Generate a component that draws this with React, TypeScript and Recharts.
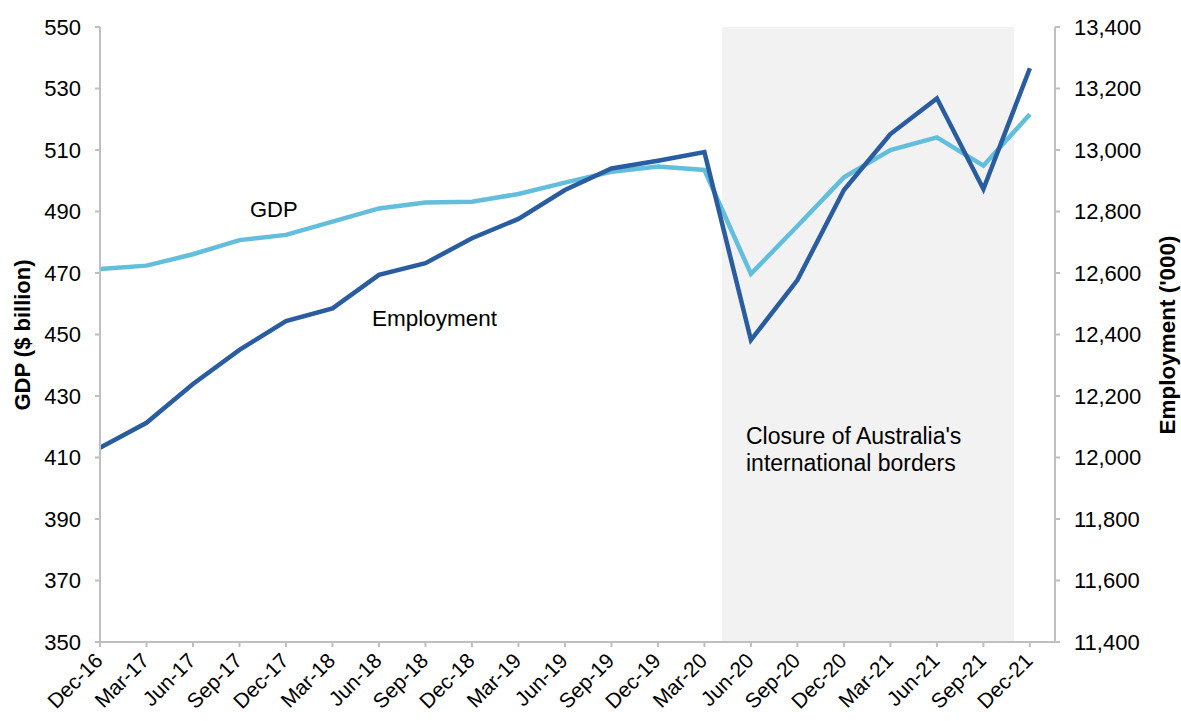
import React from "react";
import {
  LineChart,
  Line,
  XAxis,
  YAxis,
  ReferenceArea,
} from "recharts";

const QUARTERS = [
  "Dec-16", "Mar-17", "Jun-17", "Sep-17", "Dec-17", "Mar-18", "Jun-18",
  "Sep-18", "Dec-18", "Mar-19", "Jun-19", "Sep-19", "Dec-19", "Mar-20",
  "Jun-20", "Sep-20", "Dec-20", "Mar-21", "Jun-21", "Sep-21", "Dec-21",
];

// GDP, $ billion (left axis)
const GDP = [
  471.3, 472.4, 476.1, 480.7, 482.4, 486.7, 491.0, 492.9, 493.2, 495.7, 499.4,
  502.9, 504.6, 503.5, 469.7, 485.3, 501.1, 510.0, 514.1, 504.9, 521.6,
];

// Employment, '000 (right axis)
const EMPLOYMENT = [
  12032, 12113, 12239, 12350, 12444, 12485, 12594, 12632, 12713, 12776, 12870,
  12940, 12965, 12993, 12382, 12577, 12870, 13052, 13168, 12873, 13266,
];

const GDP_TICKS = [350, 370, 390, 410, 430, 450, 470, 490, 510, 530, 550];
const EMP_TICKS = [
  11400, 11600, 11800, 12000, 12200, 12400, 12600, 12800, 13000, 13200, 13400,
];

// border closure shading, in quarter-index units
const CLOSURE_START = 13.38;
const CLOSURE_END = 19.66;
const X_MAX = 20.54;

const data = QUARTERS.map((q, i) => ({
  idx: i,
  quarter: q,
  gdp: GDP[i],
  employment: EMPLOYMENT[i],
}));

const FONT = '"Liberation Sans", Arial, Helvetica, sans-serif';
const AXIS_GREY = "#bfbfbf";
const W = 1181;
const H = 721;

function QuarterTick({ x, y, payload }: any) {
  return (
    <text
      x={x + 4}
      y={y + 15}
      textAnchor="end"
      transform={`rotate(-45, ${x + 4}, ${y + 15})`}
      fontSize={21}
      fontFamily={FONT}
      fill="#000"
    >
      {QUARTERS[payload.value]}
    </text>
  );
}

export default function App() {
  return (
    <div style={{ position: "absolute", left: 0, top: 0, width: W, height: H, background: "#fff" }}>
      <LineChart
        width={W}
        height={H}
        data={data}
        margin={{ top: 27, right: 0, bottom: 0, left: 0 }}
      >
        <XAxis
          dataKey="idx"
          type="number"
          domain={[0, X_MAX]}
          ticks={QUARTERS.map((_, i) => i)}
          interval={0}
          height={79}
          tick={<QuarterTick />}
          tickSize={5}
          tickMargin={0}
          tickLine={{ stroke: AXIS_GREY, strokeWidth: 2 }}
          axisLine={{ stroke: AXIS_GREY, strokeWidth: 2 }}
        />
        <YAxis
          yAxisId="left"
          orientation="left"
          width={100}
          domain={[350, 550]}
          ticks={GDP_TICKS}
          interval={0}
          tickSize={5}
          tickMargin={14}
          tick={{ fontSize: 22, fill: "#000", fontFamily: FONT }}
          tickLine={{ stroke: AXIS_GREY, strokeWidth: 2 }}
          axisLine={{ stroke: AXIS_GREY, strokeWidth: 2 }}
        />
        <YAxis
          yAxisId="right"
          orientation="right"
          width={126}
          domain={[11400, 13400]}
          ticks={EMP_TICKS}
          interval={0}
          tickSize={5}
          tickMargin={14}
          tickFormatter={(v: number) => v.toLocaleString("en-US")}
          tick={{ fontSize: 22, fill: "#000", fontFamily: FONT }}
          tickLine={{ stroke: AXIS_GREY, strokeWidth: 2 }}
          axisLine={{ stroke: AXIS_GREY, strokeWidth: 2 }}
        />
        <ReferenceArea
          yAxisId="left"
          x1={CLOSURE_START}
          x2={CLOSURE_END}
          y1={350}
          y2={550}
          fill="#f2f2f2"
          fillOpacity={1}
          stroke="none"
        />
        <Line
          yAxisId="left"
          type="linear"
          dataKey="gdp"
          stroke="#63bedc"
          strokeWidth={4.5}
          dot={false}
          activeDot={false}
          isAnimationActive={false}
        />
        <Line
          yAxisId="right"
          type="linear"
          dataKey="employment"
          stroke="#2a5d9f"
          strokeWidth={4.5}
          dot={false}
          activeDot={false}
          isAnimationActive={false}
        />
      </LineChart>
      <svg
        width={W}
        height={H}
        style={{ position: "absolute", left: 0, top: 0, pointerEvents: "none" }}
        fontFamily={FONT}
      >
        <text x={250} y={217} fontSize={22} fill="#000">GDP</text>
        <text x={372} y={326} fontSize={22.5} fill="#000">Employment</text>
        <text x={746} y={444} fontSize={23} fill="#000">Closure of Australia's</text>
        <text x={746} y={471} fontSize={23} fill="#000">international borders</text>
        <text
          x={22}
          y={335}
          fontSize={22}
          fontWeight="bold"
          textAnchor="middle"
          dominantBaseline="central"
          transform="rotate(-90, 22, 335)"
          fill="#000"
        >
          GDP ($ billion)
        </text>
        <text
          x={1167}
          y={335}
          fontSize={22.5}
          fontWeight="bold"
          textAnchor="middle"
          dominantBaseline="central"
          transform="rotate(-90, 1167, 335)"
          fill="#000"
        >
          Employment ('000)
        </text>
      </svg>
    </div>
  );
}
